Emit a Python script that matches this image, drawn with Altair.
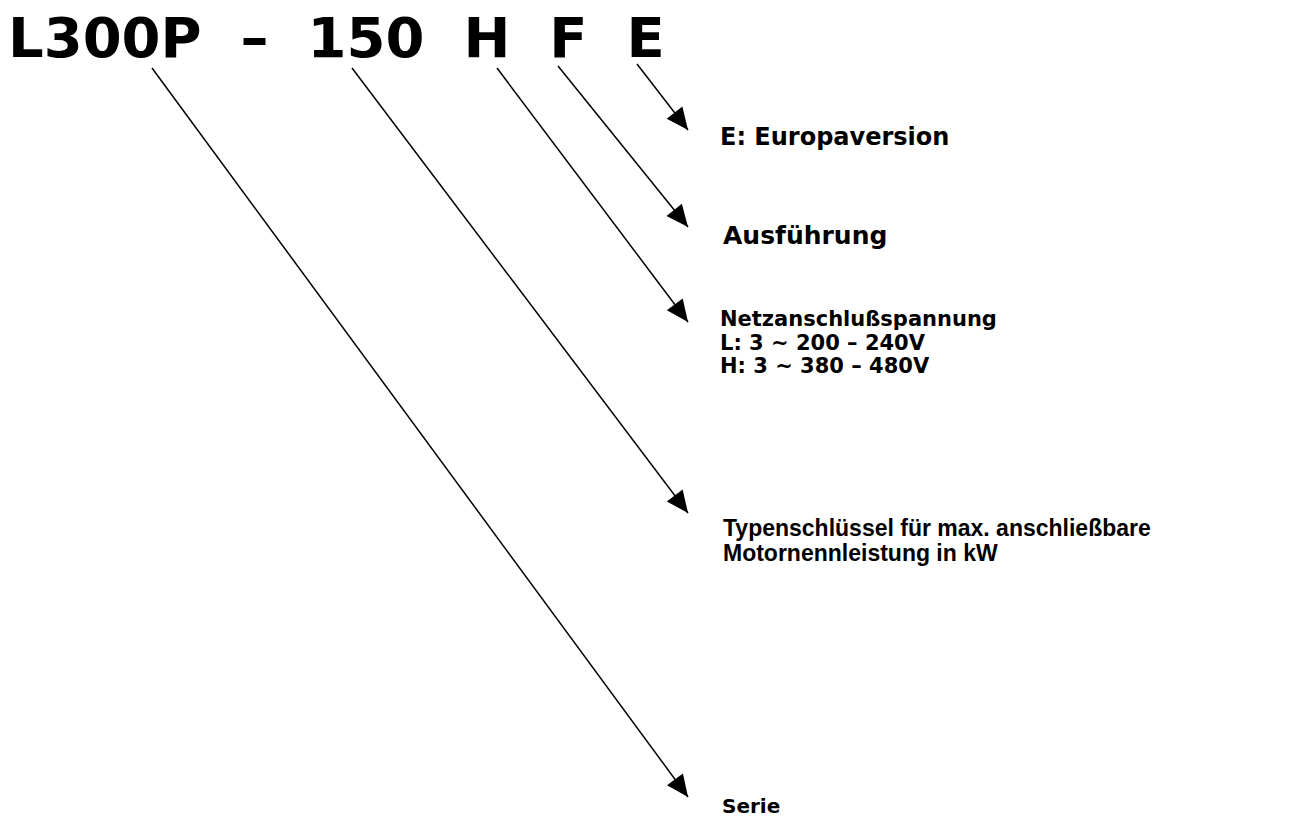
import math
import altair as alt
import pandas as pd

W, H = 1300, 810
FONT = "DejaVu Sans"
NB = "\u00a0"

# ---- data -------------------------------------------------------------
title_text = ["L300P" + NB * 2 + "–" + NB * 2 + "150" + NB * 2 + "H" + NB * 2 + "F" + NB * 2 + "E"]
title_x = [8]
title_y = [57]

label_text = [
    "E: Europaversion",
    "Ausführung",
    "Netzanschlußspannung",
    "L: 3 ~ 200 – 240V",
    "H: 3 ~ 380 – 480V",
    "Typenschlüssel für max. anschließbare",
    "Motornennleistung in kW",
    "Serie",
]
label_x = [720, 723, 720, 720, 720, 723, 723, 722]
label_y = [145, 244, 326, 350, 373, 536, 561, 813]
label_font = ["DejaVu Sans", "DejaVu Sans", "DejaVu Sans", "DejaVu Sans", "DejaVu Sans",
              "Liberation Sans", "Liberation Sans", "DejaVu Sans"]
label_size = [24, 25, 21, 21, 21, 23, 23, 20]

arrow_x0 = [637, 558, 497, 352, 152]
arrow_y0 = [64, 66, 68, 68, 68]
arrow_x1 = [688, 688, 688, 688, 688]
arrow_y1 = [130, 227, 322, 513, 797]

# ---- tables -----------------------------------------------------------
title_df = pd.DataFrame({"x": title_x, "y": title_y, "t": title_text})
label_df = pd.DataFrame({"x": label_x, "y": label_y, "t": label_text,
                         "f": label_font, "s": label_size})
arrow_df = pd.DataFrame({"x": arrow_x0, "y": arrow_y0, "x2": arrow_x1, "y2": arrow_y1})
head_df = pd.DataFrame({
    "x": arrow_x1,
    "y": arrow_y1,
    "ang": [math.degrees(math.atan2(x1 - x0, -(y1 - y0)))
            for x0, y0, x1, y1 in zip(arrow_x0, arrow_y0, arrow_x1, arrow_y1)],
})

xs = alt.Scale(domain=[8, 8 + W], nice=False, zero=False)
ys = alt.Scale(domain=[8, 8 + H], nice=False, zero=False, reverse=True)
X = alt.X("x:Q", scale=xs, axis=None)
Y = alt.Y("y:Q", scale=ys, axis=None)

lines = alt.Chart(arrow_df).mark_rule(color="black", strokeWidth=1.5).encode(
    x=X, y=Y, x2="x2:Q", y2="y2:Q"
)

heads = alt.Chart(head_df).mark_point(
    shape="M0,0L0.9,2L-0.9,2Z", filled=True, color="black",
    opacity=1, size=484, strokeWidth=0
).encode(x=X, y=Y, angle=alt.Angle("ang:Q", scale=None))

title = alt.Chart(title_df).mark_text(
    font=FONT, fontWeight="bold", fontSize=56, align="left",
    baseline="alphabetic", color="black"
).encode(x=X, y=Y, text="t:N")

label_layers = []
for f, s in sorted(set(zip(label_font, label_size))):
    sub = alt.Chart(label_df).transform_filter(
        (alt.datum.f == f) & (alt.datum.s == s)
    ).mark_text(
        font=f, fontWeight="bold", fontSize=s, align="left",
        baseline="alphabetic", color="black"
    ).encode(x=X, y=Y, text="t:N")
    label_layers.append(sub)

chart = alt.layer(lines, heads, title, *label_layers).properties(
    width=W, height=H, autosize=alt.AutoSizeParams(type="none"), padding=0,
    background="white"
).configure_view(stroke=None)

chart.save("out.html", embed_options={"renderer": "svg", "actions": False})
